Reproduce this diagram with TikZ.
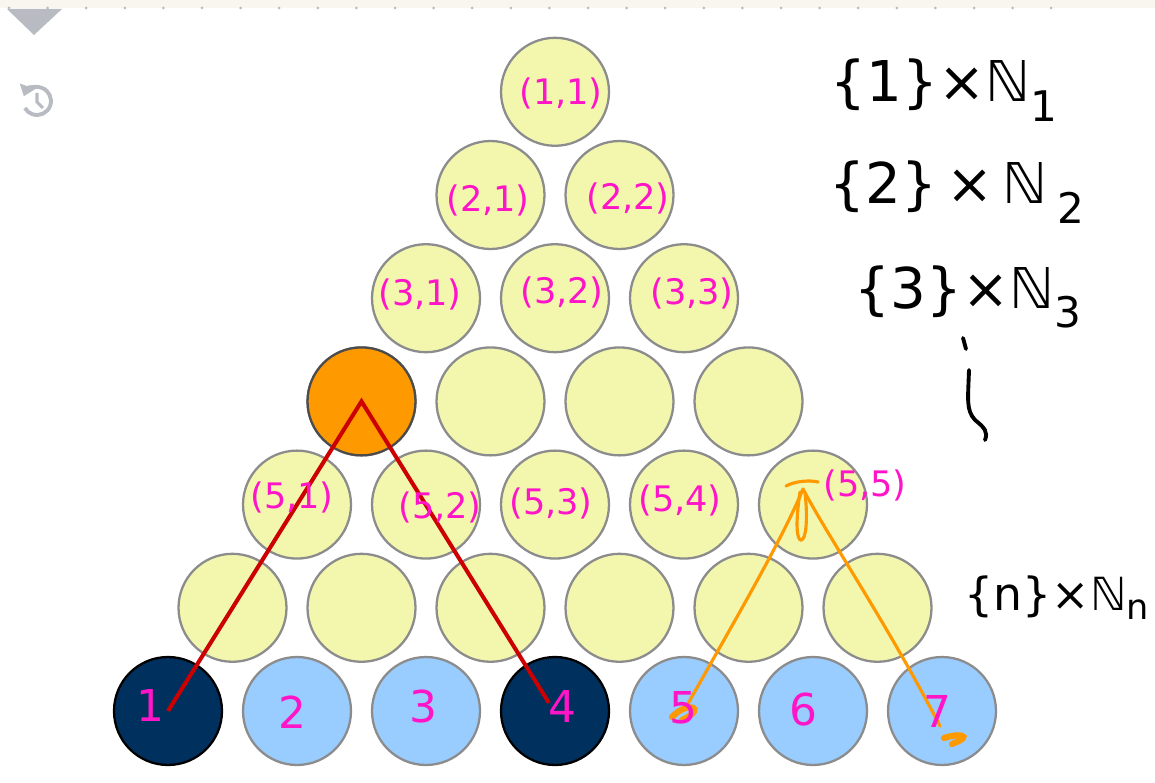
\documentclass[tikz,border=0pt]{standalone}
\usepackage{fontspec}
\setmainfont{DejaVu Sans}
\usetikzlibrary{arrows.meta}
\definecolor{ballfill}{HTML}{F3F7AE}
\definecolor{rim}{HTML}{8C8C8C}
\definecolor{sky}{HTML}{99CCFF}
\definecolor{navy}{HTML}{00305E}
\definecolor{orng}{HTML}{FF9900}
\definecolor{pen}{HTML}{FF14C8}
\definecolor{redline}{HTML}{CC0000}
\definecolor{uigray}{HTML}{B8BCC2}
\definecolor{strip}{HTML}{F9F6EF}
\newcommand{\lowsub}[1]{\raisebox{-0.35em}{\fontsize{24}{24}\selectfont #1}}
\begin{document}
\begin{tikzpicture}[x=0.02cm,y=-0.02cm,
  ballbase/.style={circle,minimum size=2.16cm,inner sep=0,line width=1.3pt},
  yball/.style={ballbase,draw=rim,fill=ballfill},
  oball/.style={ballbase,draw=black!70,fill=orng},
  lball/.style={ballbase,draw=rim,fill=sky},
  dball/.style={ballbase,draw=black,fill=navy},
  lab/.style={text=pen,font=\fontsize{20}{20}\selectfont,inner sep=0},
  num/.style={text=pen,font=\fontsize{25}{25}\selectfont,inner sep=0},
  setlab/.style={text=black,font=\fontsize{32}{32}\selectfont,inner sep=0},
  redpen/.style={draw=redline,line width=2.3pt},
  orpen/.style={draw=orng,line width=1.8pt,line cap=round},
  ink/.style={draw=black,line width=2.2pt,line cap=round}]
\useasboundingbox (0,0) rectangle (1155,783);
\fill[white] (0,0) rectangle (1155,783);
% top strip
\fill[strip] (0,0) rectangle (1155,8);
\foreach \k in {0,...,27} \fill[uigray] ({9+38.6*\k},8) circle (1.5);
% UI triangle
\fill[uigray] (7,9) -- (62,9) -- (34,35) -- cycle;
% history icon
\draw[uigray,line width=2.2pt,{Triangle[length=6pt,width=9pt]}-] ({37+14*cos(-160)},{101+14*sin(-160)}) arc (-160:150:14);
\draw[uigray,line width=1.8pt] (37,93) -- (37,102) -- (43,108);
% balls
\foreach \r in {1,...,6}
  \foreach \j in {1,...,\r}
    \node[yball] (b-\r-\j) at ({555+(\j-(\r+1)/2)*129},{91.8+(\r-1)*103.2}) {};
\node[oball] (b-4-1) at ({555-1.5*129},401.4) {};
\foreach \j/\s in {1/dball,2/lball,3/lball,4/dball,5/lball,6/lball,7/lball}
  \node[\s] (b-7-\j) at ({555+(\j-4)*129},711) {};
% red path
\draw[redpen] (b-7-1.center) -- (b-4-1.center) -- ([shift={(-6,-8)}]b-7-4.center);
% orange path
\coordinate (top) at (803,489);
\draw[orpen] ([shift={(1,-2)}]b-7-5.center) .. controls (735,620) and (782,540) .. (top);
\draw[orpen] (top) .. controls (830,540) and (885,620) .. ([shift={(-2,15)}]b-7-7.center);
\draw[orpen] (786,486) .. controls (795,481) and (810,480) .. (818,482);
\draw[orpen] (800,492) .. controls (795,525) and (797,540) .. (801,540) .. controls (806,540) and (808,520) .. (805,492);
\draw[orng,line width=3.5pt,line cap=round] (672,717) .. controls (688,700) and (708,708) .. (682,720);
\draw[orng,line width=3.5pt,line cap=round] (944,738) .. controls (958,733) and (975,735) .. (952,744);
% labels in balls
\node[lab] at (561,93) {(1,1)};
\node[lab] at (488,200) {(2,1)};
\node[lab] at (628,198) {(2,2)};
\node[lab] at (420,294) {(3,1)};
\node[lab] at (562,292) {(3,2)};
\node[lab] at (692,293) {(3,3)};
\node[lab] at (292,497) {(5,1)};
\node[lab] at (440,507) {(5,2)};
\node[lab] at (551,503) {(5,3)};
\node[lab] at (680,500) {(5,4)};
\node[lab] at (865,485) {(5,5)};
\node[num] at (150,705) {1};
\node[num] at (292,712) {2};
\node[num] at (423,707) {3};
\node[num] at (562,706) {4};
\node[num] at (683,708) {5};
\node[num] at (803,710) {6};
\node[num] at (937,711) {7};
% set labels
\node[setlab] at (944,90) {\{1\}×ℕ\lowsub{1}};
\node[setlab] at (957,192) {\{2\}\,×\,ℕ\,\lowsub{2}};
\node[setlab] at (968,297) {\{3\}×ℕ\lowsub{3}};
\draw[ink] (963,338) -- (966,349);
\draw[ink] (969,370) .. controls (968,400) and (966,410) .. (975,420) .. controls (985,428) and (988,432) .. (985,440);
\node[text=black,font=\fontsize{26}{26}\selectfont,inner sep=0] at (1057,598) {\{n\}×ℕ\raisebox{-0.2em}{\fontsize{20}{20}\selectfont n}};
\end{tikzpicture}
\end{document}
